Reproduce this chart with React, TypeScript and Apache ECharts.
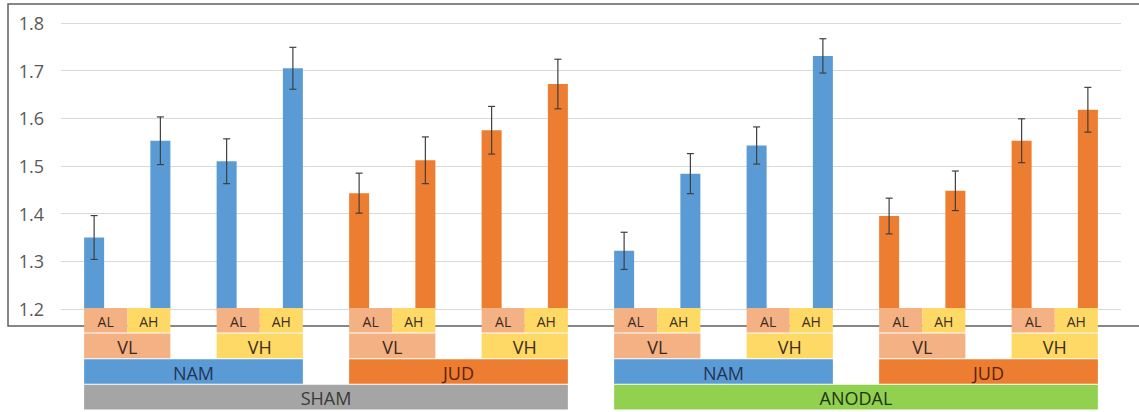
import React, { useEffect, useRef } from "react";
import * as echarts from "echarts";

// ---- data ----
const categories = [
  "SHAM-NAM-VL-AL", "SHAM-NAM-VL-AH", "SHAM-NAM-VH-AL", "SHAM-NAM-VH-AH",
  "SHAM-JUD-VL-AL", "SHAM-JUD-VL-AH", "SHAM-JUD-VH-AL", "SHAM-JUD-VH-AH",
  "ANODAL-NAM-VL-AL", "ANODAL-NAM-VL-AH", "ANODAL-NAM-VH-AL", "ANODAL-NAM-VH-AH",
  "ANODAL-JUD-VL-AL", "ANODAL-JUD-VL-AH", "ANODAL-JUD-VH-AL", "ANODAL-JUD-VH-AH",
];
const means = [
  1.350, 1.553, 1.510, 1.705, 1.443, 1.512, 1.575, 1.672,
  1.322, 1.484, 1.543, 1.731, 1.395, 1.448, 1.553, 1.618,
];
const errors = [
  0.046, 0.050, 0.047, 0.044, 0.042, 0.049, 0.050, 0.052,
  0.039, 0.042, 0.039, 0.036, 0.0375, 0.0415, 0.046, 0.047,
];
const level1Labels = ["AL", "AH"];
const level2Labels = ["VL", "VH"];
const level3Labels = ["NAM", "JUD"];
const level4Labels = ["SHAM", "ANODAL"];
const yTicks = [1.2, 1.3, 1.4, 1.5, 1.6, 1.7, 1.8];

const fillColors: Record<string, string> = {
  AL: "#F4B183", VL: "#F4B183", AH: "#FFD966", VH: "#FFD966",
  NAM: "#5B9BD5", JUD: "#ED7D31", SHAM: "#A5A5A5", ANODAL: "#92D050",
};
const textColors: Record<string, string> = {
  AL: "#3d2a1e", VL: "#3d2a1e", AH: "#3d2e1a", VH: "#3d2e1a",
  NAM: "#1f3558", JUD: "#5e220a", SHAM: "#3a3a3a", ANODAL: "#1d3510",
};
const fontSizes: Record<number, number> = { 1: 14, 2: 18, 3: 18, 4: 18 };

type Box = { start: number; end: number; level: number; label: string };
const boxes: Box[] = [];
for (let p = 0; p < categories.length / 2; p++) {
  const i = p * 2;
  boxes.push({ start: i, end: i + 0.5, level: 1, label: level1Labels[0] });
  boxes.push({ start: i + 0.5, end: i + 1, level: 1, label: level1Labels[1] });
  boxes.push({ start: i, end: i + 1, level: 2, label: level2Labels[p % 2] });
}
for (let q = 0; q < categories.length / 4; q++) {
  boxes.push({ start: q * 4, end: q * 4 + 3, level: 3, label: level3Labels[q % 2] });
}
for (let h = 0; h < categories.length / 8; h++) {
  boxes.push({ start: h * 8, end: h * 8 + 7, level: 4, label: level4Labels[h % 2] });
}

const BAR_W = 20;
const FONT = "'Open Sans', sans-serif";

export default function App() {
  const ref = useRef<HTMLDivElement>(null);
  useEffect(() => {
    if (!ref.current) return;
    const chart = echarts.init(ref.current, undefined, { renderer: "svg" });
    const barData = means.map((m, i) => ({
      value: m,
      itemStyle: { color: categories[i].includes("NAM") ? "#5B9BD5" : "#ED7D31" },
    }));
    chart.setOption({
      animation: false,
      backgroundColor: "#ffffff",
      grid: { left: 61, right: 18, top: 23, bottom: 103, containLabel: false },
      graphic: [
        {
          type: "rect",
          z: -10,
          shape: { x: 8, y: 4, width: 1200, height: 322 },
          style: { fill: "none", stroke: "#5f5f5f", lineWidth: 1.5 },
        },
      ],
      xAxis: {
        type: "category",
        data: categories,
        axisLabel: { show: false },
        axisTick: { show: false },
        axisLine: { show: false },
        splitLine: { show: false },
      },
      yAxis: {
        type: "value",
        min: yTicks[0],
        max: yTicks[yTicks.length - 1],
        interval: 0.1,
        axisLine: { show: false },
        axisTick: { show: false },
        axisLabel: {
          color: "#595959",
          fontSize: 18,
          fontFamily: FONT,
          margin: 17,
          formatter: (v: number) => v.toFixed(1),
        },
        splitLine: { lineStyle: { color: "#d9d9d9", width: 1 } },
      },
      series: [
        {
          type: "bar",
          data: barData,
          barWidth: BAR_W,
          z: 2,
        },
        {
          type: "custom",
          z: 5,
          data: means.map((m, i) => [i, m - errors[i], m + errors[i]]),
          encode: { x: 0, y: [1, 2] },
          renderItem: (params: any, api: any) => {
            const x = api.value(0);
            const lo = api.coord([x, api.value(1)]);
            const hi = api.coord([x, api.value(2)]);
            const cap = 3.5;
            const style = { stroke: "#404040", lineWidth: 1.2 };
            return {
              type: "group",
              children: [
                { type: "line", shape: { x1: lo[0], y1: lo[1], x2: hi[0], y2: hi[1] }, style },
                { type: "line", shape: { x1: hi[0] - cap, y1: hi[1], x2: hi[0] + cap, y2: hi[1] }, style },
                { type: "line", shape: { x1: lo[0] - cap, y1: lo[1], x2: lo[0] + cap, y2: lo[1] }, style },
              ],
            };
          },
        },
        {
          type: "custom",
          z: 6,
          clip: false,
          data: boxes.map((b, i) => [i, yTicks[0]]),
          encode: { x: 0, y: 1 },
          renderItem: (params: any, api: any) => {
            const b = boxes[params.dataIndex];
            const band = api.size([1, 0])[0];
            const xAt = (p: number) => {
              const f = Math.floor(p);
              return api.coord([f, yTicks[0]])[0] + (p - f) * band;
            };
            const left = xAt(b.start) - (Number.isInteger(b.start) ? BAR_W / 2 : 0);
            const right = xAt(b.end) + (Number.isInteger(b.end) ? BAR_W / 2 : 0);
            const y0 = api.coord([0, yTicks[0]])[1] - 1;
            const h = 25.6;
            const top = y0 + (b.level - 1) * h;
            return {
              type: "group",
              children: [
                {
                  type: "rect",
                  shape: { x: left, y: top, width: right - left, height: h - 1 },
                  style: { fill: fillColors[b.label] },
                },
                {
                  type: "text",
                  style: {
                    text: b.label,
                    x: (left + right) / 2,
                    y: top + (h - 1) / 2 + 1,
                    align: "center",
                    verticalAlign: "middle",
                    fill: textColors[b.label],
                    fontSize: fontSizes[b.level],
                    fontFamily: FONT,
                  },
                },
              ],
            };
          },
        },
      ],
    });
    return () => chart.dispose();
  }, []);
  return (
    <div
      ref={ref}
      style={{ position: "fixed", left: 0, top: 0, width: 1139, height: 412, background: "#fff" }}
    />
  );
}
